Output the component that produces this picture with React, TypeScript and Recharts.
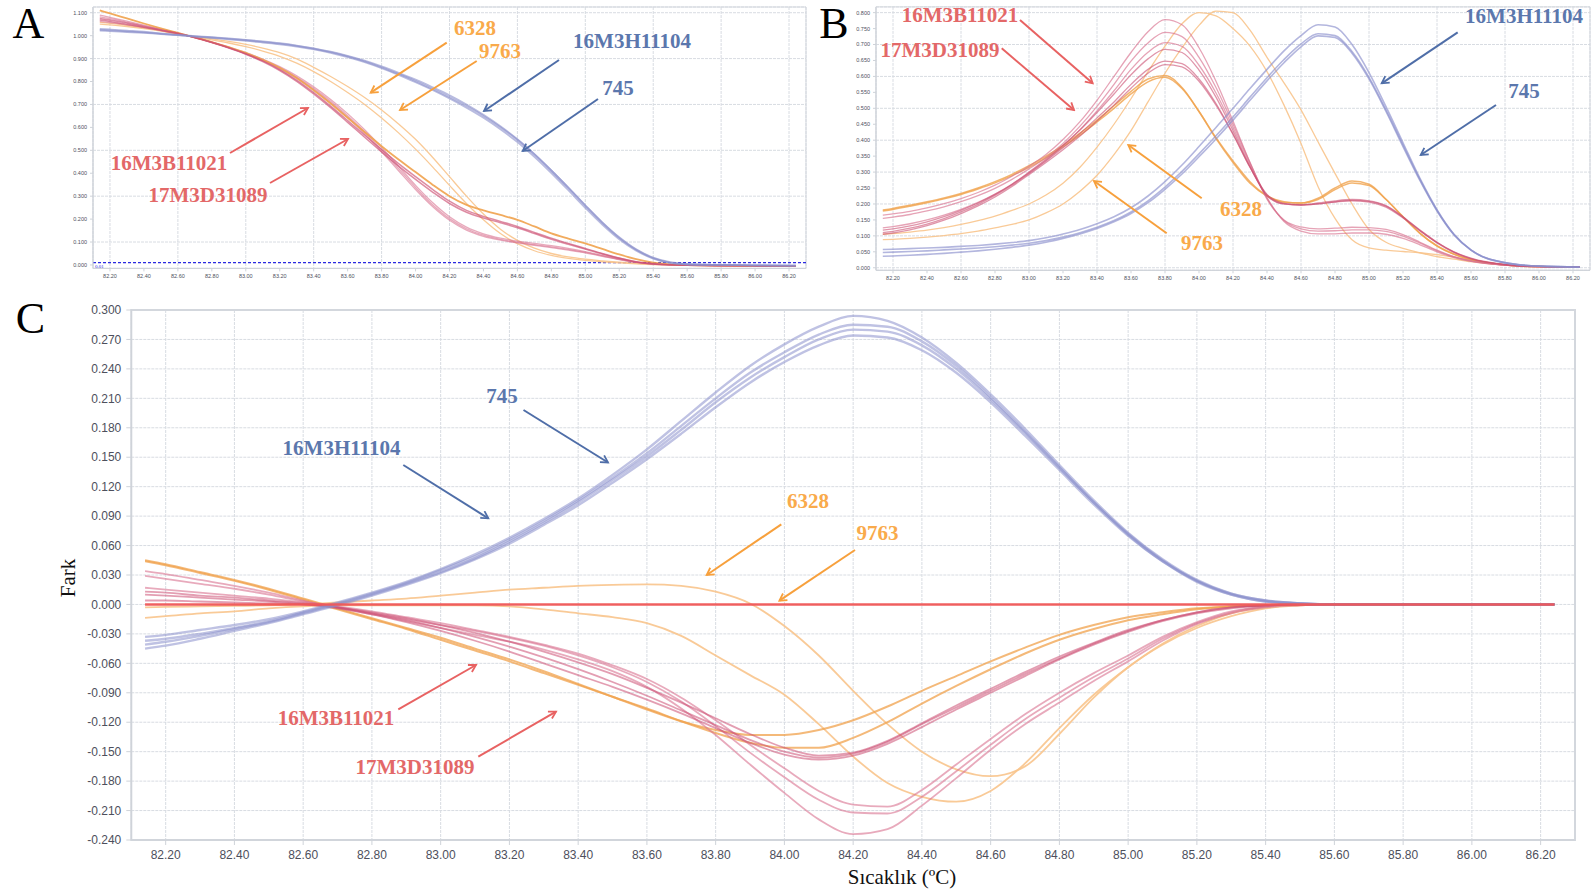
import { LineChart, Line, XAxis, YAxis, CartesianGrid, ReferenceArea, ReferenceLine } from 'recharts'

// temperature grid shared by all three panels (°C)
const temps = [
  82.14, 82.2, 82.3, 82.4, 82.5, 82.6, 82.7, 82.8, 82.9, 83.0,
  83.1, 83.2, 83.3, 83.4, 83.5, 83.6, 83.7, 83.8, 83.9, 84.0,
  84.1, 84.2, 84.3, 84.4, 84.5, 84.6, 84.7, 84.8, 84.9, 85.0,
  85.1, 85.2, 85.3, 85.4, 85.5, 85.6, 85.8, 86.0, 86.24,
]

const tempTicks = [
  82.2, 82.4, 82.6, 82.8, 83.0, 83.2, 83.4, 83.6, 83.8, 84.0, 84.2,
  84.4, 84.6, 84.8, 85.0, 85.2, 85.4, 85.6, 85.8, 86.0, 86.2,
]
const aTicks = [0, 0.1, 0.2, 0.3, 0.4, 0.5, 0.6, 0.7, 0.8, 0.9, 1.0, 1.1]
const bTicks = [0, 0.05, 0.1, 0.15, 0.2, 0.25, 0.3, 0.35, 0.4, 0.45, 0.5, 0.55, 0.6, 0.65, 0.7, 0.75, 0.8]
const cTicks = [-0.24, -0.21, -0.18, -0.15, -0.12, -0.09, -0.06, -0.03, 0, 0.03, 0.06, 0.09, 0.12, 0.15, 0.18, 0.21, 0.24, 0.27, 0.3]

// ---- A: normalized melt curves ----
const aBlue1 = [1.030, 1.027, 1.022, 1.017, 1.010, 1.003, 0.998, 0.993, 0.988, 0.982, 0.975, 0.967, 0.957, 0.945, 0.930, 0.912, 0.891, 0.866, 0.838, 0.808, 0.775, 0.740, 0.700, 0.655, 0.605, 0.548, 0.483, 0.412, 0.337, 0.260, 0.186, 0.121, 0.068, 0.032, 0.012, 0.004, 0.000, -0.002, -0.003]
const aBlue2 = [1.025, 1.023, 1.019, 1.014, 1.008, 1.002, 0.997, 0.992, 0.986, 0.980, 0.973, 0.965, 0.955, 0.943, 0.928, 0.910, 0.888, 0.862, 0.833, 0.802, 0.768, 0.732, 0.693, 0.650, 0.601, 0.546, 0.483, 0.412, 0.337, 0.259, 0.184, 0.118, 0.066, 0.030, 0.010, 0.003, 0.000, -0.002, -0.003]
const aBlue3 = [1.022, 1.020, 1.016, 1.012, 1.007, 1.002, 0.996, 0.990, 0.984, 0.978, 0.970, 0.962, 0.952, 0.940, 0.925, 0.906, 0.884, 0.858, 0.829, 0.797, 0.763, 0.726, 0.686, 0.642, 0.592, 0.536, 0.472, 0.401, 0.326, 0.249, 0.176, 0.112, 0.062, 0.028, 0.009, 0.002, 0.000, -0.002, -0.003]
const aOrange = [1.110, 1.097, 1.075, 1.053, 1.032, 1.012, 0.992, 0.972, 0.950, 0.925, 0.895, 0.860, 0.815, 0.762, 0.704, 0.642, 0.580, 0.518, 0.460, 0.405, 0.350, 0.300, 0.262, 0.238, 0.218, 0.197, 0.168, 0.138, 0.115, 0.094, 0.070, 0.046, 0.025, 0.010, 0.003, -0.001, -0.003, -0.004, -0.005]
const aPinkA = [1.075, 1.068, 1.055, 1.040, 1.025, 1.010, 0.992, 0.971, 0.948, 0.921, 0.890, 0.852, 0.806, 0.752, 0.693, 0.630, 0.566, 0.503, 0.442, 0.385, 0.330, 0.278, 0.238, 0.212, 0.190, 0.168, 0.142, 0.117, 0.094, 0.072, 0.050, 0.030, 0.014, 0.005, 0.001, -0.001, -0.003, -0.004, -0.005]
const aPinkB = [1.068, 1.062, 1.050, 1.037, 1.023, 1.009, 0.991, 0.970, 0.946, 0.919, 0.887, 0.848, 0.801, 0.746, 0.686, 0.622, 0.557, 0.493, 0.431, 0.373, 0.318, 0.268, 0.230, 0.205, 0.184, 0.162, 0.137, 0.112, 0.090, 0.069, 0.048, 0.029, 0.013, 0.005, 0.001, -0.001, -0.003, -0.004, -0.005]
const aPinkC = [1.090, 1.080, 1.063, 1.046, 1.029, 1.012, 0.993, 0.972, 0.950, 0.926, 0.898, 0.865, 0.825, 0.777, 0.722, 0.660, 0.590, 0.513, 0.430, 0.347, 0.272, 0.210, 0.165, 0.136, 0.117, 0.104, 0.094, 0.084, 0.072, 0.058, 0.042, 0.026, 0.012, 0.004, 0.001, -0.001, -0.003, -0.004, -0.005]
const aPinkD = [1.082, 1.074, 1.059, 1.043, 1.027, 1.011, 0.992, 0.971, 0.948, 0.923, 0.894, 0.860, 0.819, 0.770, 0.714, 0.651, 0.580, 0.503, 0.420, 0.338, 0.263, 0.202, 0.158, 0.130, 0.112, 0.099, 0.089, 0.079, 0.068, 0.055, 0.040, 0.024, 0.011, 0.004, 0.001, -0.001, -0.003, -0.004, -0.005]
const aPinkE = [1.062, 1.057, 1.047, 1.035, 1.022, 1.009, 0.991, 0.970, 0.947, 0.921, 0.891, 0.856, 0.814, 0.764, 0.707, 0.643, 0.572, 0.494, 0.411, 0.329, 0.255, 0.195, 0.152, 0.125, 0.108, 0.096, 0.086, 0.076, 0.065, 0.053, 0.038, 0.023, 0.011, 0.004, 0.001, -0.001, -0.003, -0.004, -0.005]
const aLight1 = [1.050, 1.047, 1.040, 1.031, 1.020, 1.006, 0.996, 0.986, 0.975, 0.962, 0.946, 0.926, 0.899, 0.862, 0.822, 0.778, 0.730, 0.676, 0.615, 0.548, 0.470, 0.385, 0.300, 0.222, 0.156, 0.107, 0.073, 0.050, 0.035, 0.025, 0.018, 0.012, 0.007, 0.003, 0.001, 0.000, -0.002, -0.003, -0.004]
const aLight2 = [1.058, 1.054, 1.045, 1.034, 1.022, 1.008, 0.995, 0.982, 0.968, 0.952, 0.933, 0.910, 0.880, 0.843, 0.800, 0.752, 0.700, 0.641, 0.576, 0.505, 0.428, 0.347, 0.268, 0.197, 0.137, 0.093, 0.062, 0.042, 0.029, 0.020, 0.014, 0.009, 0.005, 0.002, 0.001, 0.000, -0.002, -0.003, -0.004]
const aThreshold = 0.01

// ---- B: derivative melt peaks ----
const bBlue1 = [0.057, 0.058, 0.060, 0.062, 0.064, 0.067, 0.070, 0.074, 0.079, 0.085, 0.094, 0.106, 0.120, 0.138, 0.160, 0.188, 0.225, 0.270, 0.322, 0.380, 0.440, 0.500, 0.562, 0.622, 0.680, 0.728, 0.762, 0.755, 0.700, 0.612, 0.505, 0.392, 0.280, 0.182, 0.105, 0.056, 0.016, 0.005, 0.002]
const bBlue2 = [0.048, 0.049, 0.051, 0.053, 0.056, 0.059, 0.062, 0.066, 0.071, 0.077, 0.085, 0.096, 0.110, 0.127, 0.148, 0.175, 0.210, 0.253, 0.302, 0.357, 0.414, 0.473, 0.535, 0.596, 0.653, 0.702, 0.734, 0.728, 0.678, 0.597, 0.495, 0.385, 0.276, 0.180, 0.104, 0.055, 0.016, 0.005, 0.002]
const bBlue3 = [0.036, 0.037, 0.039, 0.042, 0.045, 0.049, 0.053, 0.058, 0.064, 0.071, 0.080, 0.092, 0.106, 0.123, 0.144, 0.170, 0.204, 0.246, 0.294, 0.348, 0.404, 0.463, 0.525, 0.586, 0.643, 0.693, 0.727, 0.722, 0.673, 0.592, 0.490, 0.380, 0.273, 0.178, 0.103, 0.055, 0.015, 0.005, 0.002]
const bOrange1 = [0.181, 0.186, 0.196, 0.207, 0.219, 0.233, 0.250, 0.270, 0.293, 0.320, 0.350, 0.384, 0.422, 0.463, 0.508, 0.553, 0.592, 0.603, 0.565, 0.490, 0.405, 0.330, 0.265, 0.225, 0.205, 0.203, 0.218, 0.250, 0.272, 0.262, 0.215, 0.160, 0.108, 0.068, 0.042, 0.026, 0.009, 0.003, 0.002]
const bOrange2 = [0.178, 0.183, 0.193, 0.204, 0.216, 0.230, 0.247, 0.266, 0.289, 0.315, 0.345, 0.379, 0.416, 0.457, 0.500, 0.545, 0.583, 0.597, 0.562, 0.490, 0.408, 0.335, 0.270, 0.226, 0.207, 0.203, 0.214, 0.245, 0.266, 0.258, 0.214, 0.160, 0.108, 0.069, 0.043, 0.025, 0.009, 0.003, 0.002]
const bLight1 = [0.105, 0.107, 0.112, 0.118, 0.126, 0.136, 0.148, 0.162, 0.180, 0.200, 0.228, 0.265, 0.315, 0.378, 0.450, 0.530, 0.615, 0.695, 0.765, 0.800, 0.790, 0.750, 0.695, 0.615, 0.510, 0.390, 0.255, 0.155, 0.088, 0.062, 0.055, 0.051, 0.047, 0.041, 0.033, 0.024, 0.010, 0.004, 0.002]
const bLight2 = [0.088, 0.089, 0.092, 0.096, 0.101, 0.107, 0.115, 0.125, 0.136, 0.150, 0.172, 0.200, 0.240, 0.290, 0.355, 0.430, 0.520, 0.610, 0.690, 0.760, 0.805, 0.800, 0.745, 0.660, 0.580, 0.495, 0.395, 0.296, 0.200, 0.120, 0.080, 0.061, 0.047, 0.035, 0.027, 0.019, 0.008, 0.003, 0.002]
const bPinkA = [0.165, 0.169, 0.177, 0.188, 0.201, 0.217, 0.236, 0.259, 0.287, 0.318, 0.355, 0.402, 0.458, 0.525, 0.600, 0.675, 0.740, 0.778, 0.762, 0.690, 0.585, 0.460, 0.330, 0.215, 0.150, 0.128, 0.122, 0.124, 0.127, 0.126, 0.120, 0.104, 0.080, 0.055, 0.035, 0.022, 0.008, 0.003, 0.002]
const bPinkB = [0.155, 0.159, 0.167, 0.178, 0.191, 0.207, 0.226, 0.249, 0.277, 0.310, 0.346, 0.390, 0.444, 0.506, 0.575, 0.648, 0.705, 0.738, 0.725, 0.660, 0.565, 0.450, 0.330, 0.218, 0.148, 0.122, 0.115, 0.116, 0.119, 0.119, 0.114, 0.099, 0.077, 0.053, 0.034, 0.021, 0.008, 0.003, 0.002]
const bPinkC = [0.125, 0.129, 0.138, 0.150, 0.165, 0.183, 0.205, 0.231, 0.262, 0.298, 0.337, 0.382, 0.433, 0.492, 0.555, 0.622, 0.676, 0.706, 0.694, 0.635, 0.548, 0.440, 0.325, 0.220, 0.145, 0.115, 0.106, 0.106, 0.109, 0.109, 0.105, 0.092, 0.072, 0.050, 0.032, 0.020, 0.008, 0.003, 0.002]
const bPinkD = [0.118, 0.122, 0.131, 0.144, 0.160, 0.180, 0.203, 0.230, 0.262, 0.300, 0.340, 0.384, 0.432, 0.487, 0.545, 0.605, 0.655, 0.685, 0.675, 0.620, 0.535, 0.430, 0.318, 0.225, 0.200, 0.198, 0.203, 0.210, 0.214, 0.210, 0.195, 0.160, 0.118, 0.080, 0.050, 0.030, 0.010, 0.004, 0.002]
const bPinkE = [0.110, 0.114, 0.124, 0.137, 0.154, 0.175, 0.199, 0.227, 0.259, 0.296, 0.335, 0.376, 0.421, 0.470, 0.520, 0.575, 0.622, 0.648, 0.640, 0.592, 0.515, 0.420, 0.315, 0.228, 0.200, 0.196, 0.200, 0.207, 0.211, 0.208, 0.193, 0.158, 0.117, 0.079, 0.049, 0.029, 0.010, 0.004, 0.002]
const bPinkF = [0.105, 0.109, 0.119, 0.132, 0.149, 0.170, 0.194, 0.222, 0.255, 0.292, 0.330, 0.370, 0.413, 0.460, 0.510, 0.563, 0.610, 0.637, 0.630, 0.585, 0.510, 0.418, 0.315, 0.230, 0.202, 0.197, 0.200, 0.206, 0.210, 0.206, 0.190, 0.156, 0.115, 0.078, 0.048, 0.028, 0.010, 0.004, 0.002]

// ---- C: difference plot ----
const cBlue1 = [-0.033, -0.031, -0.026, -0.021, -0.015, -0.007, 0.002, 0.012, 0.023, 0.036, 0.051, 0.068, 0.087, 0.108, 0.132, 0.158, 0.187, 0.216, 0.243, 0.265, 0.283, 0.294, 0.289, 0.272, 0.246, 0.214, 0.179, 0.142, 0.106, 0.073, 0.046, 0.025, 0.011, 0.004, 0.001, 0, 0, 0, 0]
const cBlue2 = [-0.037, -0.035, -0.030, -0.024, -0.017, -0.008, 0.001, 0.011, 0.022, 0.035, 0.049, 0.066, 0.085, 0.106, 0.129, 0.154, 0.182, 0.210, 0.236, 0.257, 0.275, 0.285, 0.283, 0.268, 0.243, 0.211, 0.176, 0.140, 0.104, 0.072, 0.045, 0.024, 0.011, 0.004, 0.001, 0, 0, 0, 0]
const cBlue3 = [-0.041, -0.038, -0.032, -0.025, -0.018, -0.009, 0.000, 0.010, 0.021, 0.033, 0.047, 0.064, 0.083, 0.104, 0.127, 0.151, 0.178, 0.206, 0.231, 0.252, 0.270, 0.280, 0.278, 0.264, 0.240, 0.209, 0.175, 0.139, 0.104, 0.071, 0.044, 0.024, 0.010, 0.003, 0.001, 0, 0, 0, 0]
const cBlue4 = [-0.045, -0.042, -0.035, -0.027, -0.019, -0.010, -0.001, 0.009, 0.020, 0.032, 0.046, 0.062, 0.081, 0.101, 0.124, 0.148, 0.174, 0.201, 0.226, 0.247, 0.264, 0.274, 0.272, 0.259, 0.236, 0.206, 0.172, 0.137, 0.102, 0.070, 0.044, 0.023, 0.010, 0.003, 0.001, 0, 0, 0, 0]
const cReference = [0, 0, 0, 0, 0, 0, 0, 0, 0, 0, 0, 0, 0, 0, 0, 0, 0, 0, 0, 0, 0, 0, 0, 0, 0, 0, 0, 0, 0, 0, 0, 0, 0, 0, 0, 0, 0, 0, 0]
const cPinkA = [0.034, 0.031, 0.025, 0.019, 0.012, 0.004, -0.003, -0.010, -0.017, -0.024, -0.031, -0.038, -0.046, -0.056, -0.068, -0.084, -0.106, -0.133, -0.163, -0.192, -0.219, -0.234, -0.229, -0.205, -0.177, -0.148, -0.122, -0.100, -0.078, -0.058, -0.037, -0.020, -0.009, -0.003, -0.001, 0, 0, 0, 0]
const cPinkB = [0.029, 0.026, 0.021, 0.016, 0.010, 0.003, -0.003, -0.009, -0.015, -0.021, -0.027, -0.034, -0.042, -0.052, -0.064, -0.079, -0.099, -0.124, -0.151, -0.176, -0.199, -0.212, -0.213, -0.196, -0.170, -0.143, -0.117, -0.095, -0.074, -0.055, -0.035, -0.019, -0.008, -0.002, 0, 0, 0, 0, 0]
const cPinkC = [0.017, 0.015, 0.012, 0.009, 0.006, 0.002, -0.002, -0.007, -0.013, -0.019, -0.026, -0.033, -0.041, -0.050, -0.062, -0.076, -0.095, -0.118, -0.143, -0.167, -0.190, -0.204, -0.206, -0.189, -0.163, -0.137, -0.112, -0.090, -0.070, -0.052, -0.033, -0.018, -0.007, -0.002, 0, 0, 0, 0, 0]
const cPinkD = [0.013, 0.012, 0.009, 0.007, 0.004, 0.001, -0.003, -0.009, -0.016, -0.024, -0.033, -0.043, -0.054, -0.066, -0.079, -0.093, -0.108, -0.123, -0.138, -0.150, -0.156, -0.152, -0.140, -0.122, -0.105, -0.088, -0.071, -0.055, -0.040, -0.027, -0.016, -0.008, -0.003, -0.001, 0, 0, 0, 0, 0]
const cPinkE = [0.010, 0.009, 0.007, 0.005, 0.003, 0.000, -0.004, -0.010, -0.018, -0.027, -0.037, -0.048, -0.060, -0.072, -0.084, -0.097, -0.111, -0.126, -0.141, -0.153, -0.158, -0.154, -0.142, -0.125, -0.107, -0.090, -0.073, -0.056, -0.041, -0.028, -0.017, -0.009, -0.004, -0.001, 0, 0, 0, 0, 0]
const cPinkF = [0.004, 0.004, 0.003, 0.002, 0.001, 0.000, -0.003, -0.008, -0.014, -0.021, -0.029, -0.038, -0.048, -0.059, -0.071, -0.085, -0.100, -0.116, -0.132, -0.146, -0.154, -0.151, -0.139, -0.121, -0.103, -0.086, -0.069, -0.053, -0.039, -0.026, -0.016, -0.008, -0.003, -0.001, 0, 0, 0, 0, 0]
const cOrange1 = [0.045, 0.041, 0.033, 0.025, 0.016, 0.006, -0.004, -0.014, -0.024, -0.034, -0.045, -0.056, -0.068, -0.081, -0.094, -0.107, -0.119, -0.128, -0.133, -0.133, -0.128, -0.118, -0.104, -0.088, -0.073, -0.058, -0.044, -0.031, -0.021, -0.013, -0.008, -0.004, -0.002, -0.001, 0, 0, 0, 0, 0]
const cOrange2 = [0.044, 0.040, 0.032, 0.024, 0.015, 0.005, -0.005, -0.015, -0.025, -0.036, -0.047, -0.058, -0.070, -0.082, -0.094, -0.106, -0.119, -0.131, -0.141, -0.146, -0.146, -0.136, -0.120, -0.101, -0.083, -0.066, -0.050, -0.036, -0.025, -0.016, -0.010, -0.005, -0.002, -0.001, 0, 0, 0, 0, 0]
const cLight1 = [-0.003, -0.0025, -0.002, -0.0015, -0.001, 0.000, 0.002, 0.004, 0.006, 0.009, 0.012, 0.015, 0.017, 0.019, 0.020, 0.0205, 0.019, 0.013, 0.001, -0.022, -0.052, -0.088, -0.122, -0.150, -0.168, -0.175, -0.165, -0.132, -0.095, -0.064, -0.041, -0.024, -0.012, -0.004, -0.001, 0, 0, 0, 0]
const cLight2 = [-0.0136, -0.012, -0.009, -0.007, -0.004, -0.002, -0.001, -0.001, -0.001, -0.001, -0.001, -0.002, -0.005, -0.009, -0.013, -0.019, -0.032, -0.052, -0.072, -0.092, -0.122, -0.155, -0.182, -0.196, -0.201, -0.190, -0.162, -0.126, -0.092, -0.064, -0.040, -0.022, -0.009, -0.003, -0.001, 0, 0, 0, 0]

const BLUE = '#8a8fcc'
const PINK = '#d9728f'
const DARKPINK = '#cc4f72'
const ORANGE = '#f0a24c'
const LIGHT = '#f8c48c'
const RED = '#ef5757'

type Series = { key: string; values: number[]; color: string; width: number; opacity: number }

const seriesA: Series[] = [
  { key: 'l1', values: aLight1, color: LIGHT, width: 1.3, opacity: 0.9 },
  { key: 'l2', values: aLight2, color: LIGHT, width: 1.3, opacity: 0.9 },
  { key: 'p3', values: aPinkC, color: PINK, width: 1.3, opacity: 0.6 },
  { key: 'p4', values: aPinkD, color: PINK, width: 1.3, opacity: 0.6 },
  { key: 'p5', values: aPinkE, color: PINK, width: 1.3, opacity: 0.6 },
  { key: 'o1', values: aOrange, color: ORANGE, width: 1.8, opacity: 0.9 },
  { key: 'p1', values: aPinkA, color: DARKPINK, width: 1.5, opacity: 0.65 },
  { key: 'p2', values: aPinkB, color: DARKPINK, width: 1.5, opacity: 0.65 },
  { key: 'b1', values: aBlue1, color: BLUE, width: 1.8, opacity: 0.6 },
  { key: 'b2', values: aBlue2, color: BLUE, width: 1.8, opacity: 0.6 },
  { key: 'b3', values: aBlue3, color: BLUE, width: 1.8, opacity: 0.6 },
]

const seriesB: Series[] = [
  { key: 'l1', values: bLight1, color: LIGHT, width: 1.3, opacity: 0.9 },
  { key: 'l2', values: bLight2, color: LIGHT, width: 1.3, opacity: 0.9 },
  { key: 'o1', values: bOrange1, color: ORANGE, width: 1.5, opacity: 0.8 },
  { key: 'o2', values: bOrange2, color: ORANGE, width: 1.5, opacity: 0.8 },
  { key: 'p1', values: bPinkA, color: PINK, width: 1.3, opacity: 0.65 },
  { key: 'p2', values: bPinkB, color: PINK, width: 1.3, opacity: 0.65 },
  { key: 'p3', values: bPinkC, color: PINK, width: 1.3, opacity: 0.65 },
  { key: 'p4', values: bPinkD, color: DARKPINK, width: 1.3, opacity: 0.6 },
  { key: 'p5', values: bPinkE, color: DARKPINK, width: 1.3, opacity: 0.6 },
  { key: 'p6', values: bPinkF, color: DARKPINK, width: 1.3, opacity: 0.6 },
  { key: 'b1', values: bBlue1, color: BLUE, width: 1.6, opacity: 0.65 },
  { key: 'b2', values: bBlue2, color: BLUE, width: 1.6, opacity: 0.65 },
  { key: 'b3', values: bBlue3, color: BLUE, width: 1.6, opacity: 0.65 },
]

const seriesC: Series[] = [
  { key: 'l1', values: cLight1, color: LIGHT, width: 1.8, opacity: 0.9 },
  { key: 'l2', values: cLight2, color: LIGHT, width: 1.8, opacity: 0.9 },
  { key: 'o1', values: cOrange1, color: ORANGE, width: 2, opacity: 0.75 },
  { key: 'o2', values: cOrange2, color: ORANGE, width: 2, opacity: 0.75 },
  { key: 'p1', values: cPinkA, color: PINK, width: 1.8, opacity: 0.6 },
  { key: 'p2', values: cPinkB, color: PINK, width: 1.8, opacity: 0.6 },
  { key: 'p3', values: cPinkC, color: PINK, width: 1.8, opacity: 0.6 },
  { key: 'p4', values: cPinkD, color: DARKPINK, width: 1.8, opacity: 0.55 },
  { key: 'p5', values: cPinkE, color: DARKPINK, width: 1.8, opacity: 0.55 },
  { key: 'p6', values: cPinkF, color: DARKPINK, width: 1.8, opacity: 0.55 },
  { key: 'b1', values: cBlue1, color: BLUE, width: 2.4, opacity: 0.55 },
  { key: 'b2', values: cBlue2, color: BLUE, width: 2.4, opacity: 0.55 },
  { key: 'b3', values: cBlue3, color: BLUE, width: 2.4, opacity: 0.55 },
  { key: 'b4', values: cBlue4, color: BLUE, width: 2.4, opacity: 0.55 },
  { key: 'r0', values: cReference, color: RED, width: 2.6, opacity: 0.95 },
]

// annotation labels and arrows (page pixels)
const BLUE_TXT = '#5b77ad'
const BLUE_ARR = '#4f6ea8'
const RED_TXT = '#e36868'
const RED_ARR = '#e86262'
const OR_TXT = '#f9aa4b'
const OR_ARR = '#f7a03c'

const notes = [
  { text: '6328', x: 475, y: 28, color: OR_TXT, arrow: OR_ARR, from: [446.7, 42.7], to: [370.7, 92.7] },
  { text: '9763', x: 500, y: 51, color: OR_TXT, arrow: OR_ARR, from: [476.7, 61], to: [400, 110] },
  { text: '16M3H11104', x: 632, y: 41, color: BLUE_TXT, arrow: BLUE_ARR, from: [559, 60], to: [484, 111] },
  { text: '745', x: 618, y: 88, color: BLUE_TXT, arrow: BLUE_ARR, from: [598, 99], to: [522.7, 151] },
  { text: '16M3B11021', x: 169, y: 163, color: RED_TXT, arrow: RED_ARR, from: [230, 153], to: [308, 108] },
  { text: '17M3D31089', x: 208, y: 194.5, color: RED_TXT, arrow: RED_ARR, from: [270, 183], to: [348, 139] },
  { text: '16M3B11021', x: 960, y: 14.5, color: RED_TXT, arrow: RED_ARR, from: [1020, 20], to: [1092.7, 83.3] },
  { text: '17M3D31089', x: 940, y: 50, color: RED_TXT, arrow: RED_ARR, from: [1001.7, 48.3], to: [1074, 110] },
  { text: '6328', x: 1241, y: 209, color: OR_TXT, arrow: OR_ARR, from: [1201.7, 198.3], to: [1128.3, 145] },
  { text: '9763', x: 1202, y: 243, color: OR_TXT, arrow: OR_ARR, from: [1166.7, 233.3], to: [1094, 181] },
  { text: '16M3H11104', x: 1524, y: 16, color: BLUE_TXT, arrow: BLUE_ARR, from: [1457.7, 32.3], to: [1381.7, 83.3] },
  { text: '745', x: 1524, y: 91, color: BLUE_TXT, arrow: BLUE_ARR, from: [1496, 105], to: [1420.7, 155] },
  { text: '745', x: 502, y: 396, color: BLUE_TXT, arrow: BLUE_ARR, from: [523.5, 410], to: [608, 462.5] },
  { text: '16M3H11104', x: 341.5, y: 447.5, color: BLUE_TXT, arrow: BLUE_ARR, from: [403.3, 465], to: [488.3, 518.3] },
  { text: '6328', x: 808, y: 500.5, color: OR_TXT, arrow: OR_ARR, from: [781.3, 524.3], to: [706.7, 575] },
  { text: '9763', x: 877.5, y: 533, color: OR_TXT, arrow: OR_ARR, from: [855, 550], to: [779.4, 600.7] },
  { text: '16M3B11021', x: 336, y: 718, color: RED_TXT, arrow: RED_ARR, from: [398.3, 709.3], to: [476, 665] },
  { text: '17M3D31089', x: 415, y: 767, color: RED_TXT, arrow: RED_ARR, from: [478.3, 756.7], to: [556, 711.6] },
]

const panelLetters = [
  { text: 'A', x: 28.5, y: 23 },
  { text: 'B', x: 834, y: 23 },
  { text: 'C', x: 30.5, y: 318 },
]

interface PanelProps {
  series: Series[]
  width: number
  height: number
  top: number
  right: number
  yAxisWidth: number
  xAxisHeight: number
  yDomain: [number, number]
  yTicks: number[]
  fontSize: number
  tickSize: number
  tickMargin: number
  frameWidth: number
  threshold?: number
}

function Panel(p: PanelProps) {
  const rows = temps.map((t, i) => {
    const row: Record<string, number> = { t }
    p.series.forEach((s) => { row[s.key] = s.values[i] })
    return row
  })
  const tick = { fontSize: p.fontSize, fill: '#4d4f5c', fontFamily: 'Liberation Sans, Arial, sans-serif' }
  return (
    <LineChart width={p.width} height={p.height} data={rows} margin={{ top: p.top, right: p.right, bottom: 0, left: 0 }}>
      <CartesianGrid stroke="#d8dce2" strokeDasharray="3 1" />
      <XAxis
        dataKey="t"
        type="number"
        domain={[82.1, 86.3]}
        ticks={tempTicks}
        tickFormatter={(v: number) => v.toFixed(2)}
        height={p.xAxisHeight}
        tick={tick}
        tickSize={p.tickSize}
        tickMargin={p.tickMargin}
        stroke="#cfd3d9"
        allowDataOverflow
      />
      <YAxis
        type="number"
        domain={p.yDomain}
        ticks={p.yTicks}
        tickFormatter={(v: number) => v.toFixed(3)}
        width={p.yAxisWidth}
        tick={tick}
        tickSize={p.tickSize}
        tickMargin={p.tickMargin}
        stroke="#cfd3d9"
        allowDataOverflow
      />
      <ReferenceArea
        x1={82.1}
        x2={86.3}
        y1={p.yDomain[0]}
        y2={p.yDomain[1]}
        fill="none"
        stroke="#d3d7dd"
        strokeWidth={p.frameWidth}
      />
      {p.threshold !== undefined && (
        <ReferenceLine
          y={p.threshold}
          stroke="#2a2ae0"
          strokeDasharray="3 2"
          strokeWidth={1.2}
          label={{ value: '0.01', position: 'insideTopLeft', fontSize: 5, fill: '#2a2ae0', offset: 2 }}
        />
      )}
      {p.series.map((s) => (
        <Line
          key={s.key}
          type="monotone"
          dataKey={s.key}
          stroke={s.color}
          strokeWidth={s.width}
          strokeOpacity={s.opacity}
          dot={false}
          activeDot={false}
          isAnimationActive={false}
        />
      ))}
    </LineChart>
  )
}

export default function App() {
  return (
    <div style={{ position: 'absolute', left: 0, top: 0, width: 1594, height: 894, background: '#fff', overflow: 'hidden' }}>
      <div style={{ position: 'absolute', left: 0, top: 0 }}>
        <Panel
          series={seriesA}
          width={820}
          height={290}
          top={7}
          right={14}
          yAxisWidth={93}
          xAxisHeight={21.6}
          yDomain={[-0.015, 1.125]}
          yTicks={aTicks}
          fontSize={5.5}
          tickSize={3}
          tickMargin={3}
          frameWidth={1}
          threshold={aThreshold}
        />
      </div>
      <div style={{ position: 'absolute', left: 820, top: 0 }}>
        <Panel
          series={seriesB}
          width={774}
          height={290}
          top={6.9}
          right={4}
          yAxisWidth={56}
          xAxisHeight={19.7}
          yDomain={[-0.008, 0.818]}
          yTicks={bTicks}
          fontSize={5.5}
          tickSize={3}
          tickMargin={3}
          frameWidth={1}
        />
      </div>
      <div style={{ position: 'absolute', left: 0, top: 290 }}>
        <Panel
          series={seriesC}
          width={1594}
          height={604}
          top={20}
          right={19}
          yAxisWidth={131.3}
          xAxisHeight={54}
          yDomain={[-0.24, 0.3]}
          yTicks={cTicks}
          fontSize={12}
          tickSize={5}
          tickMargin={5}
          frameWidth={2}
        />
      </div>
      <svg width={1594} height={894} style={{ position: 'absolute', left: 0, top: 0, pointerEvents: 'none' }}>
        <defs>
          {[BLUE_ARR, RED_ARR, OR_ARR].map((c, i) => (
            <marker key={c} id={`head${i}`} markerWidth={10} markerHeight={10} refX={8} refY={5} orient="auto" markerUnits="userSpaceOnUse">
              <path d="M1,1 L8,5 L1,9" fill="none" stroke={c} strokeWidth={1.8} />
            </marker>
          ))}
        </defs>
        {notes.map((n, i) => {
          const headIdx = [BLUE_ARR, RED_ARR, OR_ARR].indexOf(n.arrow)
          return (
            <g key={i}>
              <line
                x1={n.from[0]}
                y1={n.from[1]}
                x2={n.to[0]}
                y2={n.to[1]}
                stroke={n.arrow}
                strokeWidth={2}
                markerEnd={`url(#head${headIdx})`}
              />
              <text
                x={n.x}
                y={n.y}
                textAnchor="middle"
                dominantBaseline="central"
                fontFamily="Liberation Serif, Times New Roman, serif"
                fontWeight="bold"
                fontSize={21}
                fill={n.color}
              >
                {n.text}
              </text>
            </g>
          )
        })}
        {panelLetters.map((l) => (
          <text
            key={l.text}
            x={l.x}
            y={l.y}
            textAnchor="middle"
            dominantBaseline="central"
            fontFamily="Liberation Serif, Times New Roman, serif"
            fontSize={44}
            fill="#000"
          >
            {l.text}
          </text>
        ))}
        <text
          x={68}
          y={578}
          transform="rotate(-90 68 578)"
          textAnchor="middle"
          dominantBaseline="central"
          fontFamily="Liberation Serif, Times New Roman, serif"
          fontSize={21}
          fill="#111"
        >
          Fark
        </text>
        <text
          x={902}
          y={877}
          textAnchor="middle"
          dominantBaseline="central"
          fontFamily="Liberation Serif, Times New Roman, serif"
          fontSize={21}
          fill="#111"
        >
          Sıcaklık (ºC)
        </text>
      </svg>
    </div>
  )
}
